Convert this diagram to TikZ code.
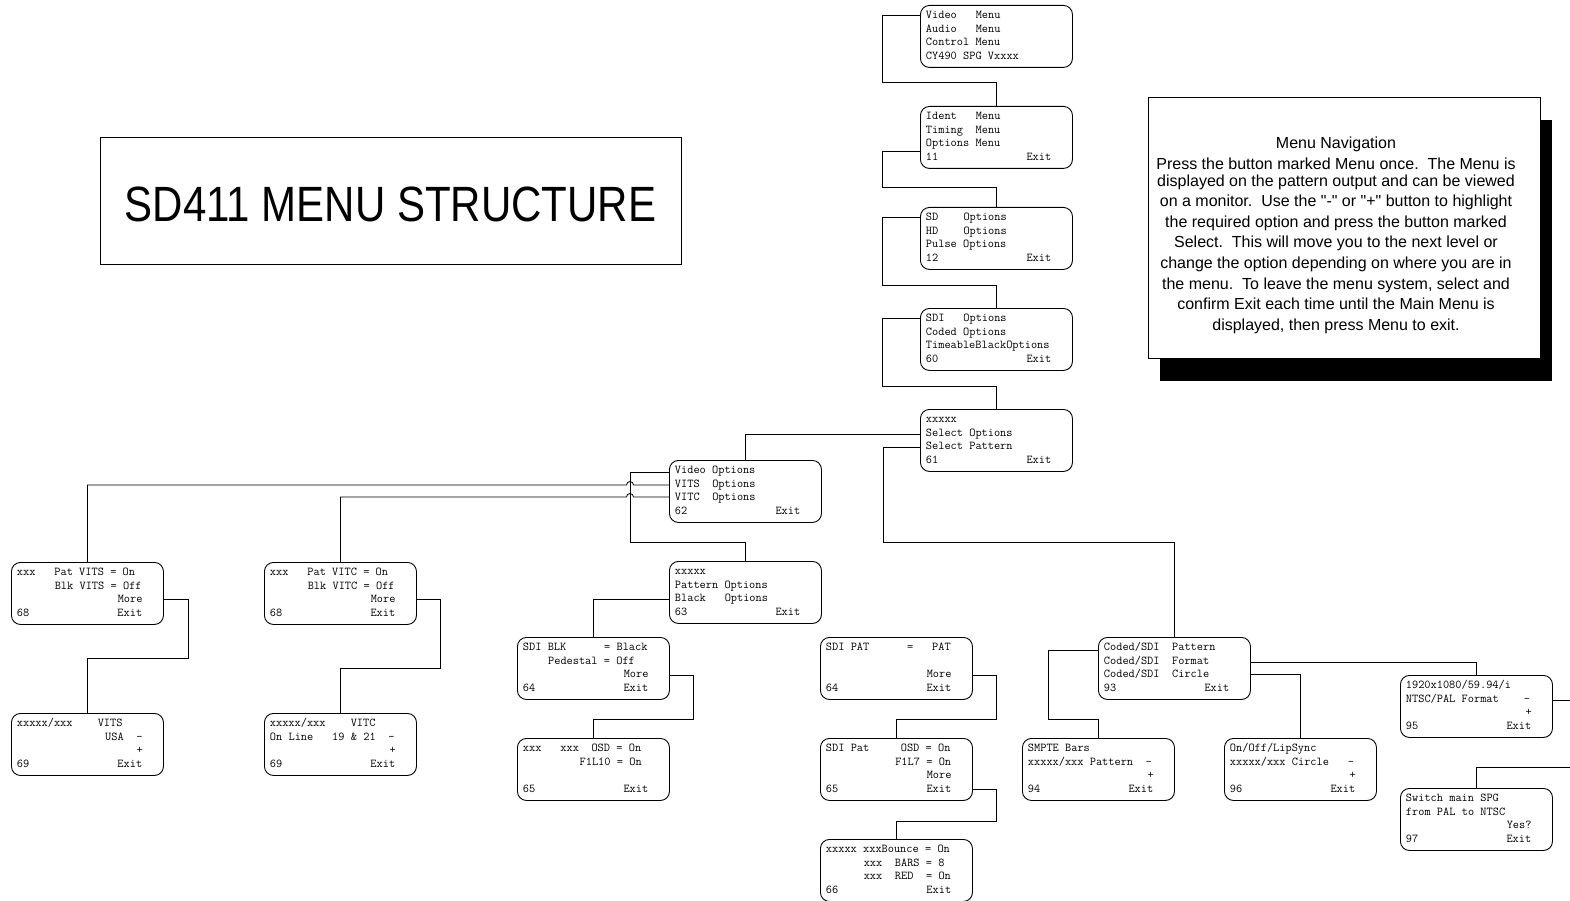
\documentclass[tikz,border=0pt]{standalone}
\usepackage{fontspec}
\newfontfamily\arialfont{Liberation Sans}
\usetikzlibrary{shadows}

% four lines of one menu screen (each ~ is one character cell)
\newcommand{\menutext}[4]{\def~{\hbox to 6.3pt{}}%
    \noindent\begin{tabular}{@{}l@{}}#1\\#2\\#3\\#4\end{tabular}}

\begin{document}
\begin{tikzpicture}[x=1pt, y=1pt,
    menu/.style={draw, rounded corners=9pt, line width=0.9pt, anchor=north west,
        text width=141pt, inner xsep=5.5pt, inner ysep=0pt, minimum height=62pt,
        align=left, font=\ttfamily\fontsize{12}{13.5}\selectfont},
    link/.style={line width=0.8pt}]
    \useasboundingbox (0,0) rectangle (1570,-901);

    % --- Title ---
    \node[draw, line width=0.8pt, minimum width=581pt, minimum height=127pt,
        text height=41.5pt, text depth=0pt, font=\arialfont\fontsize{42}{48}\selectfont]
        (title) at (390.5,-200.5) {\scalebox{1}[1.18]{SD411 MENU STRUCTURE}};

    % --- Menu navigation note ---
    \node[draw, fill=white, line width=0.8pt, anchor=north west, inner sep=0pt,
        minimum width=392pt, minimum height=261pt,
        drop shadow={shadow xshift=12pt, shadow yshift=-23pt, fill=black, opacity=1}]
        (navbox) at (1148,-97) {};
    \node[anchor=north, align=center, inner sep=0pt,
        font=\arialfont\fontsize{16}{20.6}\selectfont] (navtext) at (1336,-137)
        {Menu Navigation\\
         Press the button marked Menu once.\ \ The Menu is\\[-3.8pt]
         displayed on the pattern output and can be viewed\\
         on a monitor.\ \ Use the "-" or "+" button to highlight\\
         the required option and press the button marked\\
         Select.\ \ This will move you to the next level or\\
         change the option depending on where you are in\\
         the menu.\ \ To leave the menu system, select and\\
         confirm Exit each time until the Main Menu is\\
         displayed, then press Menu to exit.};

    % --- Main column ---
    \node[menu] (mmain) at (920,-5) {\menutext{Video~~~Menu}{Audio~~~Menu}{Control~Menu}{CY490~SPG~Vxxxx}};
    \node[menu] (m11) at (920,-106) {\menutext{Ident~~~Menu}{Timing~~Menu}{Options~Menu}{11~~~~~~~~~~~~~~Exit}};
    \node[menu] (m12) at (920,-207) {\menutext{SD~~~~Options}{HD~~~~Options}{Pulse~Options}{12~~~~~~~~~~~~~~Exit}};
    \node[menu] (m60) at (920,-308) {\menutext{SDI~~~Options}{Coded~Options}{TimeableBlackOptions}{60~~~~~~~~~~~~~~Exit}};
    \node[menu] (m61) at (920,-409) {\menutext{xxxxx}{Select~Options}{Select~Pattern}{61~~~~~~~~~~~~~~Exit}};

    % --- Options branch ---
    \node[menu] (m62) at (669,-460) {\menutext{Video~Options}{VITS~~Options}{VITC~~Options}{62~~~~~~~~~~~~~~Exit}};
    \node[menu] (m63) at (669,-561) {\menutext{xxxxx}{Pattern~Options}{Black~~~Options}{63~~~~~~~~~~~~~~Exit}};
    \node[menu] (m68a) at (11,-562) {\menutext{xxx~~~Pat~VITS~=~On}{~~~~~~Blk~VITS~=~Off}{~~~~~~~~~~~~~~~~More}{68~~~~~~~~~~~~~~Exit}};
    \node[menu] (m69a) at (11,-713) {\menutext{xxxxx/xxx~~~~VITS}{~~~~~~~~~~~~~~USA~~-}{~~~~~~~~~~~~~~~~~~~+}{69~~~~~~~~~~~~~~Exit}};
    \node[menu] (m68b) at (264,-562) {\menutext{xxx~~~Pat~VITC~=~On}{~~~~~~Blk~VITC~=~Off}{~~~~~~~~~~~~~~~~More}{68~~~~~~~~~~~~~~Exit}};
    \node[menu] (m69b) at (264,-713) {\menutext{xxxxx/xxx~~~~VITC}{On~Line~~~19~\&~21~~-}{~~~~~~~~~~~~~~~~~~~+}{69~~~~~~~~~~~~~~Exit}};
    \node[menu] (m64a) at (517,-637) {\menutext{SDI~BLK~~~~~~=~Black}{~~~~Pedestal~=~Off}{~~~~~~~~~~~~~~~~More}{64~~~~~~~~~~~~~~Exit}};
    \node[menu] (m65a) at (517,-738) {\menutext{xxx~~~xxx~~OSD~=~On}{~~~~~~~~~F1L10~=~On}{}{65~~~~~~~~~~~~~~Exit}};
    \node[menu] (m64b) at (820,-637) {\menutext{SDI~PAT~~~~~~=~~~PAT}{}{~~~~~~~~~~~~~~~~More}{64~~~~~~~~~~~~~~Exit}};
    \node[menu] (m65b) at (820,-738) {\menutext{SDI~Pat~~~~~OSD~=~On}{~~~~~~~~~~~F1L7~=~On}{~~~~~~~~~~~~~~~~More}{65~~~~~~~~~~~~~~Exit}};
    \node[menu] (m66) at (820,-839) {\menutext{xxxxx~xxxBounce~=~On}{~~~~~~xxx~~BARS~=~8}{~~~~~~xxx~~RED~~=~On}{66~~~~~~~~~~~~~~Exit}};

    % --- Pattern branch ---
    \node[menu] (m93) at (1098,-637) {\menutext{Coded/SDI~~Pattern}{Coded/SDI~~Format}{Coded/SDI~~Circle}{93~~~~~~~~~~~~~~Exit}};
    \node[menu] (m94) at (1022,-738) {\menutext{SMPTE~Bars}{xxxxx/xxx~Pattern~~-}{~~~~~~~~~~~~~~~~~~~+}{94~~~~~~~~~~~~~~Exit}};
    \node[menu] (m96) at (1224,-738) {\menutext{On/Off/LipSync}{xxxxx/xxx~Circle~~~-}{~~~~~~~~~~~~~~~~~~~+}{96~~~~~~~~~~~~~~Exit}};
    \node[menu] (m95) at (1400,-675) {\menutext{1920x1080/59.94/i}{NTSC/PAL~Format~~~~-}{~~~~~~~~~~~~~~~~~~~+}{95~~~~~~~~~~~~~~Exit}};
    \node[menu] (m97) at (1400,-788) {\menutext{Switch~main~SPG}{from~PAL~to~NTSC}{~~~~~~~~~~~~~~~~Yes?}{97~~~~~~~~~~~~~~Exit}};

    % ends running off the right edge
    \coordinate (rimA) at (1570,-700);
    \coordinate (rimB) at (1570,-767);

    % --- Connectors ---
    \draw[link] ([yshift=-10pt]mmain.north west) -| (882,-82) -| (m11.north);
    \draw[link] ([yshift=-45pt]m11.north west) -| (882,-187) -| (m12.north);
    \draw[link] ([yshift=-10pt]m12.north west) -| (882,-285) -| (m60.north);
    \draw[link] ([yshift=-10pt]m60.north west) -| (882,-386) -| (m61.north);
    \draw[link] ([yshift=-25pt]m61.north west) -| (m62.north);
    \draw[link] ([yshift=-38pt]m61.north west) -| (883,-542) -| (m93.north);

    \draw[link] ([yshift=-12pt]m62.north west) -| (630,-542) -| (m63.north);
    % VITS and VITC hop over the Video Options line
    \draw[link] ([yshift=-25pt]m62.north west) -- (633.5,-485)
        arc[start angle=0, end angle=180, radius=3.5] -| (m68a.north);
    \draw[link] ([yshift=-37pt]m62.north west) -- (633.5,-497)
        arc[start angle=0, end angle=180, radius=3.5] -| (m68b.north);
    \draw[link] ([yshift=-38pt]m63.north west) -| (m64a.north);

    \draw[link] ([yshift=-37pt]m68a.north east) -| (188,-658) -| (m69a.north);
    \draw[link] ([yshift=-37pt]m68b.north east) -| (440,-668) -| (m69b.north);
    \draw[link] ([yshift=-38pt]m64a.north east) -| (693,-719) -| (m65a.north);
    \draw[link] ([yshift=-38pt]m64b.north east) -| (996,-719) -| (m65b.north);
    \draw[link] ([yshift=-51pt]m65b.north east) -| (996,-821) -| (m66.north);

    \draw[link] ([yshift=-13pt]m93.north west) -| (1048,-719) -| (m94.north);
    \draw[link] ([yshift=-25pt]m93.north east) -| (m95.north);
    \draw[link] ([yshift=-37pt]m93.north east) -| (m96.north);
    \draw[link] ([yshift=-25pt]m95.north east) -- (rimA);
    \draw[link] (m97.north) |- (rimB);
\end{tikzpicture}
\end{document}
